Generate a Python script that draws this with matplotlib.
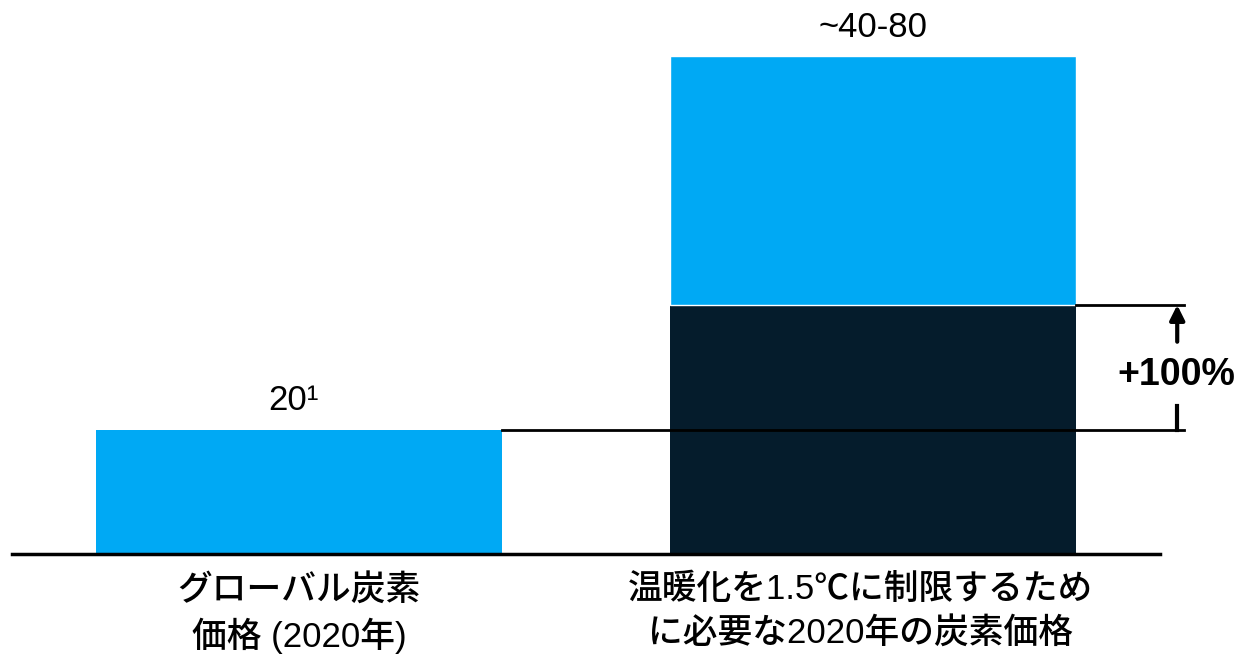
import matplotlib.pyplot as plt
import matplotlib.transforms as mtransforms

# data
categories = ['グローバル炭素\n価格 (2020年)', '温暖化を1.5℃に制限するため\nに必要な2020年の炭素価格']
base_values = [20, 40]
extra_values = [0, 40]
value_labels = ['20¹', '~40-80']
change_label = '+100%'

light_blue = '#00A9F4'
dark_blue = '#051C2C'
fam = ['Liberation Sans', 'Noto Sans CJK JP']

fig = plt.figure(figsize=(12.4, 6.54), dpi=100)
ax = fig.add_axes([12 / 1240, 100 / 654, 1148 / 1240, 554 / 654])

x = [0, 1]
w = 0.708
ax.bar(x[0], base_values[0], width=w, color=light_blue)
ax.bar(x[1], base_values[1], width=w, color=dark_blue)
ax.bar(x[1], extra_values[1], bottom=base_values[1], width=w, color=light_blue,
       edgecolor='white', linewidth=1)

ax.set_xlim(-0.5, 1.5)
ax.set_ylim(0, 89)

# value labels above bars
tops = [b + e for b, e in zip(base_values, extra_values)]
ax.text(x[0] - 0.01, tops[0] + 2.0, value_labels[0], ha='center', va='bottom',
        fontsize=25, family=fam)
ax.text(x[1], tops[1] + 2.0, value_labels[1], ha='center', va='bottom',
        fontsize=25, family=fam)

# reference lines + arrow
xr = 1.541
xa = 1.530
ax.plot([x[0] + w / 2, xr], [base_values[0], base_values[0]], color='black', lw=2, clip_on=False)
ax.plot([x[1] + w / 2, xr], [base_values[1], base_values[1]], color='black', lw=2, clip_on=False)
ax.annotate('', xy=(xa, base_values[1]), xytext=(xa, 34.1),
            arrowprops=dict(arrowstyle='-|>', lw=3, color='black', mutation_scale=22,
                            shrinkA=0, shrinkB=0),
            annotation_clip=False)
ax.plot([xa, xa], [base_values[0], 23.8], color='black', lw=3, clip_on=False)
ax.text(1.528, 28.8, change_label, ha='center', va='center', fontsize=27,
        fontweight='bold', family=fam, clip_on=False)

# axes styling
for s in ['top', 'right', 'left']:
    ax.spines[s].set_visible(False)
ax.spines['bottom'].set_linewidth(2.5)
ax.set_yticks([])
ax.set_xticks(x)
ax.set_xticklabels(categories, fontsize=25, family=fam, fontweight='medium',
                   linespacing=1.38)
ax.tick_params(axis='x', length=0, pad=14)
lbl = ax.get_xticklabels()[1]
lbl.set_transform(lbl.get_transform() + mtransforms.ScaledTranslation(-0.13, 0, fig.dpi_scale_trans))

fig.savefig('out.png', dpi=100)
